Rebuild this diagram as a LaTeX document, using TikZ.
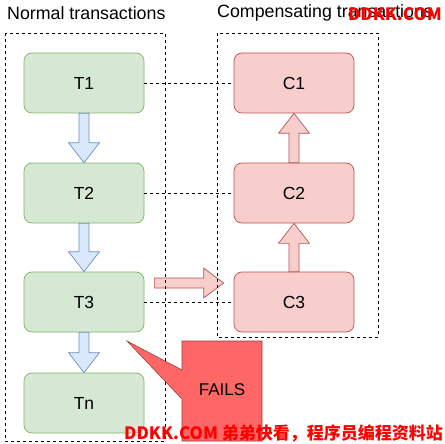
\documentclass[tikz,border=0pt]{standalone}
\usepackage{fontspec}
\setmainfont{Liberation Sans}
\newfontfamily\cjk{Noto Sans CJK SC}
\usetikzlibrary{calc}
\definecolor{gfill}{HTML}{D5E8D4}
\definecolor{gdraw}{HTML}{82B366}
\definecolor{rfill}{HTML}{F8CECC}
\definecolor{rdraw}{HTML}{B85450}
\definecolor{bfill}{HTML}{DAE8FC}
\definecolor{bdraw}{HTML}{6C8EBF}
\definecolor{failfill}{HTML}{FF6666}
\definecolor{wm}{HTML}{FF0000}
\tikzset{
  tbox/.style={draw=gdraw, fill=gfill, rounded corners=8pt, minimum width=120pt, minimum height=60pt, font=\fontsize{17.5}{20}\selectfont, line width=0.7pt},
  cbox/.style={draw=rdraw, fill=rfill, rounded corners=8pt, minimum width=120pt, minimum height=60pt, font=\fontsize{17.5}{20}\selectfont, line width=0.7pt},
  dashbox/.style={draw=black, dash pattern=on 3pt off 3pt, line width=0.8pt},
  dashlink/.style={draw=black, dash pattern=on 3pt off 3pt, line width=0.8pt},
  bluearr/.style={draw=bdraw, fill=bfill, line width=0.7pt, line join=miter},
  redarr/.style={draw=rdraw, fill=rfill, line width=0.7pt, line join=miter},
  title/.style={anchor=west, inner sep=0pt, font=\fontsize{17.8}{20}\selectfont},
  wmark/.style={text=wm, inner sep=0pt, font=\cjk\bfseries\fontsize{17}{20}\selectfont}
}
\begin{document}
\begin{tikzpicture}[x=1pt,y=-1pt]
\useasboundingbox (0,0) rectangle (445,444);
\fill[white] (0,0) rectangle (445,444);

% titles
\node[title] (tl) at (7,13) {Normal transactions};
\node[title] (tr) at (217,13) {Compensating transactions};

% nodes
\node[tbox] (T1) at (84,83) {T1};
\node[tbox] (T2) at (84,193) {T2};
\node[tbox] (T3) at (84,302) {T3};
\node[tbox] (Tn) at (84,403) {Tn};
\node[cbox] (C1) at (294,83) {C1};
\node[cbox] (C2) at (294,193) {C2};
\node[cbox] (C3) at (294,302) {C3};

% dashed links
\draw[dashlink] (T1.east) -- (C1.west);
\draw[dashlink] (T2.east) -- (C2.west);
\draw[dashlink] (T3.east) -- (C3.west);

% down block arrows
\foreach \a/\b in {T1/T2, T2/T3, T3/Tn}{
  \filldraw[bluearr] ($(\a.south)+(-5,0)$) -- ($(\b.north)+(-5,-20)$) -- ($(\b.north)+(-15.5,-20)$)
    -- (\b.north) -- ($(\b.north)+(15.5,-20)$) -- ($(\b.north)+(5,-20)$) -- ($(\a.south)+(5,0)$) -- cycle;
}
% up block arrows
\foreach \a/\b in {C2/C1, C3/C2}{
  \filldraw[redarr] ($(\a.north)+(-5,0)$) -- ($(\b.south)+(-5,20)$) -- ($(\b.south)+(-15.5,20)$)
    -- (\b.south) -- ($(\b.south)+(15.5,20)$) -- ($(\b.south)+(5,20)$) -- ($(\a.north)+(5,0)$) -- cycle;
}
% horizontal block arrow T3 -> C3
\coordinate (hs) at ($(T3.east)+(10,-19)$);
\coordinate (he) at ($(C3.west)+(-10,-19)$);
\filldraw[redarr] ($(hs)+(0,-5)$) -- ($(he)+(-20,-5)$) -- ($(he)+(-20,-15)$) -- (he)
  -- ($(he)+(-20,15)$) -- ($(he)+(-20,5)$) -- ($(hs)+(0,5)$) -- cycle;

% dashed group boxes
\draw[dashbox] (5,33) rectangle (165,441);
\draw[dashbox] (217,33) rectangle (378,337);

% FAILS callout
\coordinate (tip) at (127,341);
\filldraw[draw=rdraw!80!black, fill=failfill, line width=0.6pt] (182,341) -- (262,341) -- (262,441) -- (182,441) -- (182,399) -- (tip) -- (182,370) -- cycle;
\node[font=\fontsize{17}{20}\selectfont] (fails) at (222,390) {FAILS};

% watermarks
\node[wmark, anchor=east, font=\cjk\bfseries\fontsize{17}{20}\selectfont] (wm1) at (442,14) {DDKK.COM};
\node[wmark, anchor=east] (wm2) at (443,433) {DDKK.COM 弟弟快看，程序员编程资料站};
\end{tikzpicture}
\end{document}
